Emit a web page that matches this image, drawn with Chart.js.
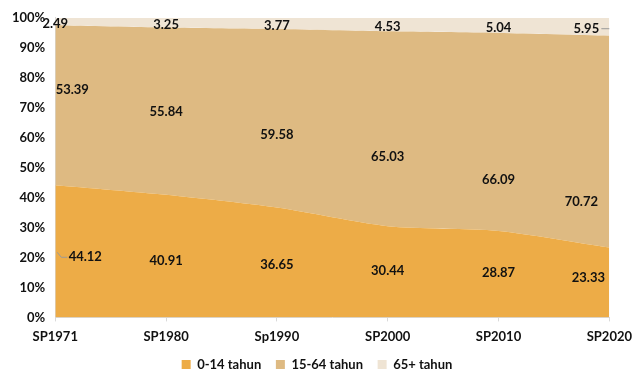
<!DOCTYPE html>
<html>
<head>
<meta charset="utf-8">
<script src="https://cdn.jsdelivr.net/npm/chart.js@4"></script>
<style>
    html, body { margin: 0; padding: 0; background: #fff; }
    #wrap { width: 640px; height: 374px; }
</style>
</head>
<body>
<div id="wrap"><canvas id="ageChart"></canvas></div>
<script>
const categories = ['SP1971', 'SP1980', 'Sp1990', 'SP2000', 'SP2010', 'SP2020'];
const seriesNames = ['0-14 tahun', '15-64 tahun', '65+ tahun'];
const young = [44.12, 40.91, 36.65, 30.44, 28.87, 23.33];
const working = [53.39, 55.84, 59.58, 65.03, 66.09, 70.72];
const old = [2.49, 3.25, 3.77, 4.53, 5.04, 5.95];
const yTicks = [0, 10, 20, 30, 40, 50, 60, 70, 80, 90, 100];

const FONT = 'Lato, "Open Sans", sans-serif';

// value labels, roughly where Excel put them
const areaLabels = {
    id: 'areaLabels',
    afterDatasetsDraw(chart) {
        const ctx = chart.ctx;
        const xs = chart.scales.x;
        const ys = chart.scales.y;
        const n = categories.length;
        ctx.save();
        ctx.font = 'bold 13px ' + FONT;
        ctx.fillStyle = '#111';
        ctx.textAlign = 'center';
        ctx.textBaseline = 'middle';
        for (let i = 0; i < n; i++) {
            const x = xs.getPixelForValue(i);
            const t = i / (n - 1);
            // 0-14
            let dx = i === 0 ? 30 : (i === n - 1 ? -21 : 0);
            let y = ys.getPixelForValue(young[i] * 0.337 + 5.2);
            ctx.fillText(young[i].toFixed(2), x + dx, y);
            // 15-64
            dx = i === 0 ? 17 : (i === n - 1 ? -28 : 0);
            y = ys.getPixelForValue(76 - t * 37.5);
            ctx.fillText(working[i].toFixed(2), x + dx, y);
            // 65+
            dx = i === n - 1 ? -23 : 0;
            y = ys.getPixelForValue(100 - old[i] / 2) + 2;
            ctx.fillText(old[i].toFixed(2), x + dx, y);
        }
        // leader lines
        ctx.strokeStyle = '#9a9a9a';
        ctx.lineWidth = 1;
        const x0 = xs.getPixelForValue(0);
        const y0 = ys.getPixelForValue(young[0] * 0.337 + 5.2);
        ctx.beginPath();
        ctx.moveTo(x0 + 2, y0 - 5);
        ctx.lineTo(x0 + 6, y0);
        ctx.lineTo(x0 + 12, y0);
        ctx.stroke();
        const x5 = xs.getPixelForValue(n - 1);
        const y5 = ys.getPixelForValue(100 - old[n - 1] / 2) + 2;
        ctx.beginPath();
        ctx.moveTo(x5 - 8, y5);
        ctx.lineTo(x5, y5);
        ctx.stroke();
        ctx.restore();
    }
};

const ctxArea = document.getElementById('ageChart').getContext('2d');
new Chart(ctxArea, {
    type: 'line',
    data: {
        labels: categories,
        datasets: [{
            label: seriesNames[0],
            data: young,
            backgroundColor: '#EDAC47',
            borderWidth: 0,
            pointRadius: 0,
            fill: 'origin',
            tension: 0.25
        }, {
            label: seriesNames[1],
            data: working,
            backgroundColor: '#DEBA82',
            borderWidth: 0,
            pointRadius: 0,
            fill: '-1',
            tension: 0.25
        }, {
            label: seriesNames[2],
            data: old,
            backgroundColor: '#EFE4D4',
            borderWidth: 0,
            pointRadius: 0,
            fill: '-1',
            tension: 0.25
        }]
    },
    options: {
        responsive: true,
        maintainAspectRatio: false,
        animation: false,
        layout: {
            padding: { top: 10, right: 8, left: 2, bottom: -7 }
        },
        plugins: {
            legend: {
                position: 'bottom',
                labels: {
                    boxWidth: 9,
                    boxHeight: 9,
                    padding: 5,
                    color: '#111',
                    font: { family: FONT, size: 13, weight: 'bold' },
                    generateLabels(chart) {
                        const items = Chart.defaults.plugins.legend.labels.generateLabels(chart);
                        items.forEach((it, i) => {
                            it.lineWidth = 0;
                            // wider gap between entries, like the original
                            if (i < items.length - 1) it.text += ' \u2002';
                        });
                        return items;
                    }
                }
            },
            tooltip: { enabled: false }
        },
        scales: {
            x: {
                offset: false,
                grid: {
                    display: true,
                    drawOnChartArea: false,
                    tickLength: 4,
                    color: '#d9d9d9'
                },
                border: { color: '#d9d9d9' },
                ticks: {
                    color: '#111',
                    maxRotation: 0,
                    padding: 8,
                    font: { family: FONT, size: 13, weight: 'bold' }
                }
            },
            y: {
                stacked: true,
                min: 0,
                max: 100,
                afterBuildTicks(axis) {
                    axis.ticks = yTicks.map(v => ({ value: v }));
                },
                grid: { display: false, drawTicks: false },
                border: { color: '#d9d9d9' },
                ticks: {
                    color: '#111',
                    padding: 10,
                    font: { family: FONT, size: 13, weight: 'bold' },
                    callback: v => v + '%'
                }
            }
        }
    },
    plugins: [areaLabels]
});
</script>
</body>
</html>
